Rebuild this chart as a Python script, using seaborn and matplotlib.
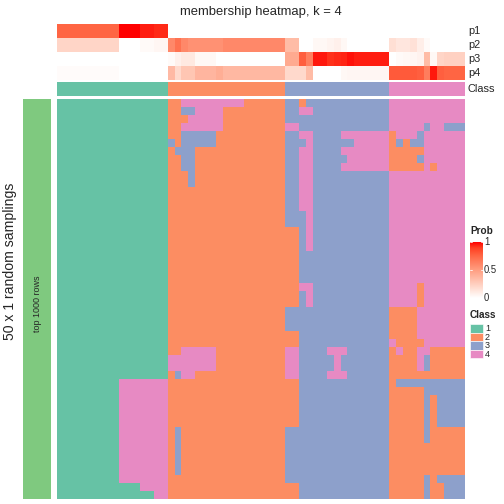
import numpy as np
import matplotlib.pyplot as plt
import seaborn as sns
from matplotlib.colors import ListedColormap, LinearSegmentedColormap
from matplotlib.patches import Rectangle

# class of every column (sample) in the consensus partition
col_class = ([1] * 16) + ([2] * 17) + ([3] * 15) + ([4] * 11)

# membership probabilities per column
p1 = [0.76, 0.76, 0.76, 0.76, 0.76, 0.76, 0.76, 0.76, 0.76, 1.0, 1.0, 1.0, 0.95, 0.95, 0.93, 0.93,
      0, 0, 0, 0, 0, 0, 0, 0, 0, 0, 0, 0, 0, 0, 0, 0, 0,
      0, 0, 0, 0, 0, 0, 0, 0, 0, 0, 0, 0, 0, 0, 0,
      0, 0, 0, 0, 0, 0, 0, 0, 0, 0, 0]
p2 = [0.22, 0.22, 0.22, 0.22, 0.22, 0.22, 0.22, 0.22, 0.22, 0, 0, 0, 0.03, 0.03, 0.05, 0.05,
      0.6, 0.7, 0.6, 0.56, 0.56, 0.56, 0.56, 0.56, 0.6, 0.6, 0.6, 0.6, 0.6, 0.6, 0.6, 0.6, 0.6,
      0.35, 0.35, 0, 0, 0.04, 0.04, 0.06, 0.08, 0.04, 0, 0, 0, 0, 0, 0,
      0.17, 0.13, 0.13, 0.16, 0.09, 0.03, 0, 0, 0, 0, 0]
p3 = [0, 0, 0, 0, 0, 0, 0, 0, 0, 0, 0, 0, 0, 0, 0, 0,
      0.03, 0.08, 0.12, 0.12, 0.04, 0.04, 0.04, 0, 0, 0, 0, 0, 0, 0, 0, 0, 0,
      0.44, 0.44, 0.78, 0.64, 0.96, 0.96, 0.92, 0.93, 0.94, 0.97, 0.95, 0.95, 0.95, 0.95, 0.95,
      0, 0.03, 0.04, 0.05, 0.07, 0.35, 0.04, 0.22, 0.24, 0.24, 0.24]
p4 = [0.02, 0.02, 0.02, 0.02, 0.02, 0.02, 0.02, 0.02, 0.02, 0, 0, 0, 0, 0, 0, 0,
      0.36, 0.2, 0.3, 0.3, 0.38, 0.38, 0.38, 0.42, 0.37, 0.37, 0.37, 0.37, 0.37, 0.37, 0.37, 0.37, 0.37,
      0.2, 0.2, 0.2, 0.35, 0, 0, 0, 0, 0.04, 0.05, 0.05, 0.05, 0.05, 0.05, 0.05,
      0.8, 0.8, 0.8, 0.8, 0.78, 0.65, 0.96, 0.78, 0.76, 0.76, 0.76]
prob_names = ["p1", "p2", "p3", "p4"]

# class found in each of the 50 random samplings (rows) for each column
samplings = [
    "1111111111111111" "22444444444222222" "332333333333333" "44444444444",
    "1111111111111111" "22334444222222222" "334433333333333" "44444444444",
    "1111111111111111" "22244444222222222" "333333333333333" "44444444444",
    "1111111111111111" "22444444222222222" "443333333333333" "44444344333",
    "1111111111111111" "22333332222222222" "334433334444444" "24443444444",
    "1111111111111111" "32333332222222222" "333433333344444" "23233444444",
    "1111111111111111" "23332222222222222" "334433334444444" "22222444444",
    "1111111111111111" "22332222222222222" "334433333444444" "22223444444",
    "1111111111111111" "22332222222222222" "334433334444444" "22222424444",
    "1111111111111111" "22232222222222222" "334433333333333" "44444444444",
    "1111111111111111" "22232222222222222" "334433333333333" "44444444444",
    "1111111111111111" "22222222222222222" "334433333333333" "44444444444",
    "1111111111111111" "22222222222222222" "334433333333333" "44444444444",
    "1111111111111111" "22222222222222222" "334433333333333" "44444444444",
    "1111111111111111" "22222222222222222" "333433333333333" "44444444444",
    "1111111111111111" "22222222222222222" "333433333333333" "44444444444",
    "1111111111111111" "22222222222222222" "223433333333333" "44444444444",
    "1111111111111111" "22222222222222222" "223433333333333" "44444444444",
    "1111111111111111" "22222222222222222" "223433333333333" "44444444444",
    "1111111111111111" "22222222222222222" "223333333333333" "44444444444",
    "1111111111111111" "22222222222222222" "223333333333333" "44444444444",
    "1111111111111111" "22222222222222222" "223333333333333" "44444444444",
    "1111111111111111" "22222222222222222" "223333333333333" "44444444444",
    "1111111111111111" "22222222222222222" "224433333333333" "44442444444",
    "1111111111111111" "22222222222222222" "223433333333333" "44442444444",
    "1111111111111111" "22222222222222222" "223433333333333" "44442444444",
    "1111111111111111" "22222222222222222" "333333333333333" "22224444444",
    "1111111111111111" "22222222222222222" "333333333333333" "22224444444",
    "1111111111111111" "22222222222222222" "333333333333333" "22224444444",
    "1111111111111111" "22222222222222222" "223333333333333" "22224444444",
    "1111111111111111" "22222222222222222" "223333333333333" "42222444444",
    "1111111111111111" "22444442222222222" "443333444333333" "24224422222",
    "1111111111111111" "44444442222222222" "443333343333333" "22224322222",
    "1111111111111111" "44444442222222222" "443333343333333" "22224322222",
    "1111111111111111" "23442222222222222" "443333444333333" "22222222222",
    "1111111114444444" "22222222222222222" "223333333333333" "23333333333",
    "1111111114444444" "22222222222222222" "223333333333333" "22222333333",
    "1111111114444444" "22222222222222222" "223333333333333" "22222323333",
    "1111111114444444" "22222222222222222" "223333333333333" "22222323333",
    "1111111114444444" "22222222222222222" "223333333333333" "22222323333",
    "1111111114444444" "22222222222222222" "223333333333333" "22222323333",
    "1111111114444444" "23222222222222222" "333333333333333" "22222322222",
    "1111111114444444" "23222222222222222" "333333333333333" "22222322222",
    "1111111114444444" "23222222222222222" "333333333333333" "22222222222",
    "1111111114444444" "23222222222222222" "333333333333333" "22222222222",
    "1111111114444444" "23222222222222222" "333333333333333" "22222222222",
    "1111111114444444" "23222222222222222" "333333333333333" "22222222222",
    "1111111114444444" "22222222222222222" "333333333333333" "22222323333",
    "1111111111114444" "22222222222222222" "223333333333333" "22222322333",
    "1111111111111144" "22222222222222222" "223333333333333" "22222322333",
]
class_labels = ["1", "2", "3", "4"]

class_colors = ["#66C2A5", "#FC8D62", "#8DA0CB", "#E78AC3"]
class_cmap = ListedColormap(class_colors)
# white -> red ramp (LAB interpolation approximated)
prob_cmap = LinearSegmentedColormap.from_list("prob", [
    (0.0, "#FFFFFF"), (0.1, "#FFECE5"), (0.25, "#FFCFBF"), (0.5, "#FF9E81"),
    (0.75, "#FF6846"), (0.9, "#FF3E21"), (1.0, "#FF0000")])

sns.set_style("white")
plt.rcParams['font.family'] = ['Liberation Sans', 'DejaVu Sans']

W, H = 504, 504
fig = plt.figure(figsize=(7, 7), dpi=72)


def box(x0, y0, x1, y1):
    return [x0 / W, 1 - y1 / H, (x1 - x0) / W, (y1 - y0) / H]


def ftext(x, y, s, **kw):
    fig.text(x / W, 1 - y / H, s, **kw)


mat = np.array([[int(c) for c in row] for row in samplings])
probs = np.array([p1, p2, p3, p4])

ax_prob = fig.add_axes(box(57, 24, 465, 80))
sns.heatmap(probs, cmap=prob_cmap, vmin=0, vmax=1, cbar=False,
            xticklabels=False, yticklabels=False, ax=ax_prob)

ax_cls = fig.add_axes(box(57, 82, 465, 96))
sns.heatmap(np.array([col_class]), cmap=class_cmap, vmin=0.5, vmax=4.5, cbar=False,
            xticklabels=False, yticklabels=False, ax=ax_cls)

ax_body = fig.add_axes(box(57, 99, 465, 499))
sns.heatmap(mat, cmap=class_cmap, vmin=0.5, vmax=4.5, cbar=False,
            xticklabels=False, yticklabels=False, ax=ax_body)

ax_left = fig.add_axes(box(23, 99, 51, 499))
ax_left.set_facecolor("#7FC97F")
ax_left.set_xticks([])
ax_left.set_yticks([])
for sp in ax_left.spines.values():
    sp.set_visible(False)

# texts
ftext(261, 12, "membership heatmap, k = 4", ha="center", va="center", fontsize=13)
for i, name in enumerate(prob_names):
    ftext(468, 31 + 14 * i, name, ha="left", va="center", fontsize=11)
ftext(468, 89, "Class", ha="left", va="center", fontsize=11)
ftext(10, 261, "50 x 1 random samplings", ha="center", va="center",
      rotation=90, fontsize=14)
ftext(38, 304, "top 1000 rows", ha="center", va="center", rotation=90, fontsize=9)

# legends
ax_leg = fig.add_axes(box(460, 215, 504, 370))
ax_leg.set_xlim(460, 504)
ax_leg.set_ylim(370, 215)
ax_leg.axis("off")
ax_leg.text(470, 231, "Prob", ha="left", va="center", fontsize=10, fontweight="bold")
grad = np.linspace(1, 0, 256)[:, None]
ax_leg.imshow(grad, cmap=prob_cmap, vmin=0, vmax=1, aspect="auto",
              extent=(470, 483, 298, 242))
for v, lab in [(1, "1"), (0.5, "0.5"), (0, "0")]:
    yy = 298 - 56 * v
    ax_leg.plot([470, 472], [yy, yy], color="white", lw=0.8)
    ax_leg.plot([481, 483], [yy, yy], color="white", lw=0.8)
    ax_leg.text(484, yy, lab, ha="left", va="center", fontsize=9.5)
ax_leg.text(470, 315, "Class", ha="left", va="center", fontsize=10, fontweight="bold")
for i, lab in enumerate(class_labels):
    yy = 324.5 + 8.4 * i
    ax_leg.add_patch(Rectangle((470, yy), 13, 8.4, facecolor=class_colors[i],
                               edgecolor="white", lw=0.6))
    ax_leg.text(485, yy + 4.4, lab, ha="left", va="center", fontsize=9)

plt.savefig("out.png", dpi=72)
